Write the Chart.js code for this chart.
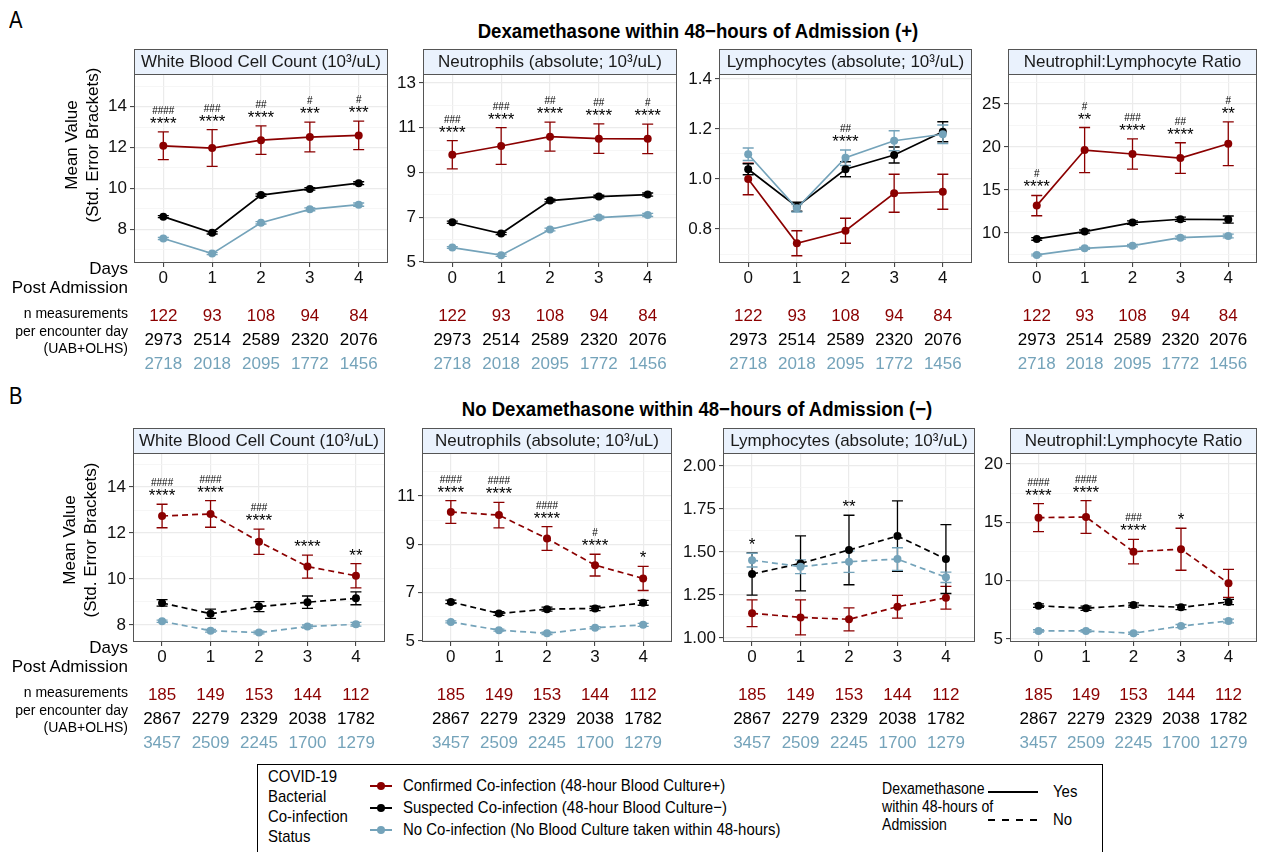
<!DOCTYPE html>
<html>
<head>
<meta charset="utf-8">
<title>Blood counts by co-infection status</title>
<script src="https://cdn.jsdelivr.net/npm/chart.js@4"></script>
<style>
  body { margin: 0; background: #fff; }
  #wrap { position: relative; width: 1261px; height: 852px; overflow: hidden;
          font-family: "Liberation Sans", Arial, sans-serif; color: #000; }
  #wrap canvas { position: absolute; }
  .t { position: absolute; white-space: nowrap; }
  .narrow { transform: scaleX(0.88); transform-origin: 0 50%; }
  .rot { transform: translate(-50%, -50%) rotate(-90deg); font-size: 17px; line-height: 20px; }
  .leftlab { left: 0; width: 128px; text-align: right; }
</style>
</head>
<body>
<div id="wrap"></div>
<script>
// ---------- categories ----------
const DAYS = ['0', '1', '2', '3', '4'];
const GROUP_LABELS = [
  'Confirmed Co-infection (48-hour Blood Culture+)',
  'Suspected Co-infection (48-hour Blood Culture\u2212)',
  'No Co-infection (No Blood Culture taken within 48-hours)'
];
const GROUP_COLORS = ['#8B0000', '#000000', '#74A3BA'];

// ---------- n measurements per encounter day ----------
const dexNConfirmed = [122, 93, 108, 94, 84];
const dexNSuspected = [2973, 2514, 2589, 2320, 2076];
const dexNNone      = [2718, 2018, 2095, 1772, 1456];
const noDexNConfirmed = [185, 149, 153, 144, 112];
const noDexNSuspected = [2867, 2279, 2329, 2038, 1782];
const noDexNNone      = [3457, 2509, 2245, 1700, 1279];

// ---------- Dexamethasone (+): means and standard errors ----------
const dexWbcConfirmed   = [12.08, 11.97, 12.36, 12.51, 12.59];
const dexWbcConfirmedSe = [0.68, 0.90, 0.70, 0.73, 0.70];
const dexWbcSuspected   = [8.61, 7.82, 9.67, 9.97, 10.25];
const dexWbcSuspectedSe = [0.05, 0.06, 0.06, 0.06, 0.07];
const dexWbcNone        = [7.54, 6.80, 8.31, 8.97, 9.20];
const dexWbcNoneSe      = [0.05, 0.05, 0.06, 0.07, 0.08];

const dexNeutConfirmed   = [9.79, 10.18, 10.60, 10.51, 10.50];
const dexNeutConfirmedSe = [0.63, 0.82, 0.65, 0.66, 0.66];
const dexNeutSuspected   = [6.77, 6.27, 7.74, 7.92, 8.01];
const dexNeutSuspectedSe = [0.05, 0.05, 0.06, 0.06, 0.07];
const dexNeutNone        = [5.64, 5.30, 6.45, 6.98, 7.10];
const dexNeutNoneSe      = [0.04, 0.05, 0.06, 0.06, 0.07];

const dexLymphConfirmed   = [1.000, 0.743, 0.793, 0.943, 0.949];
const dexLymphConfirmedSe = [0.063, 0.050, 0.050, 0.076, 0.070];
const dexLymphSuspected   = [1.039, 0.889, 1.039, 1.096, 1.189];
const dexLymphSuspectedSe = [0.022, 0.018, 0.030, 0.032, 0.040];
const dexLymphNone        = [1.099, 0.883, 1.085, 1.153, 1.179];
const dexLymphNoneSe      = [0.025, 0.015, 0.031, 0.040, 0.037];

const dexNlrConfirmed   = [13.18, 19.65, 19.19, 18.72, 20.38];
const dexNlrConfirmedSe = [1.18, 2.62, 1.77, 1.78, 2.54];
const dexNlrSuspected   = [9.30, 10.16, 11.20, 11.59, 11.55];
const dexNlrSuspectedSe = [0.15, 0.18, 0.20, 0.25, 0.42];
const dexNlrNone        = [7.44, 8.21, 8.52, 9.45, 9.65];
const dexNlrNoneSe      = [0.10, 0.12, 0.14, 0.18, 0.22];

// ---------- Dexamethasone (-): means and standard errors ----------
const noDexWbcConfirmed   = [12.74, 12.83, 11.62, 10.54, 10.14];
const noDexWbcConfirmedSe = [0.51, 0.58, 0.55, 0.50, 0.53];
const noDexWbcSuspected   = [8.96, 8.49, 8.80, 8.99, 9.16];
const noDexWbcSuspectedSe = [0.14, 0.20, 0.22, 0.27, 0.28];
const noDexWbcNone        = [8.16, 7.75, 7.67, 7.93, 8.03];
const noDexWbcNoneSe      = [0.05, 0.06, 0.06, 0.07, 0.08];

const noDexNeutConfirmed   = [10.34, 10.21, 9.24, 8.14, 7.59];
const noDexNeutConfirmedSe = [0.47, 0.53, 0.49, 0.45, 0.50];
const noDexNeutSuspected   = [6.62, 6.14, 6.32, 6.35, 6.58];
const noDexNeutSuspectedSe = [0.07, 0.08, 0.08, 0.09, 0.10];
const noDexNeutNone        = [5.79, 5.45, 5.32, 5.55, 5.67];
const noDexNeutNoneSe      = [0.04, 0.04, 0.05, 0.05, 0.06];

const noDexLymphConfirmed   = [1.144, 1.120, 1.109, 1.182, 1.234];
const noDexLymphConfirmedSe = [0.078, 0.102, 0.067, 0.066, 0.066];
const noDexLymphSuspected   = [1.372, 1.434, 1.512, 1.593, 1.459];
const noDexLymphSuspectedSe = [0.123, 0.160, 0.202, 0.205, 0.200];
const noDexLymphNone        = [1.453, 1.415, 1.444, 1.459, 1.353];
const noDexLymphNoneSe      = [0.040, 0.040, 0.062, 0.066, 0.030];

const noDexNlrConfirmed   = [15.40, 15.45, 12.48, 12.69, 9.77];
const noDexNlrConfirmedSe = [1.20, 1.40, 1.05, 1.80, 1.20];
const noDexNlrSuspected   = [7.85, 7.63, 7.91, 7.71, 8.17];
const noDexNlrSuspectedSe = [0.15, 0.18, 0.18, 0.20, 0.22];
const noDexNlrNone        = [5.69, 5.69, 5.49, 6.11, 6.54];
const noDexNlrNoneSe      = [0.10, 0.10, 0.10, 0.13, 0.16];

// ---------- significance marks (stars: vs suspected, hashes: vs none) ----------
const dexWbcStars   = ['****', '****', '****', '***', '***'];
const dexWbcHashes  = ['####', '###', '##', '#', '#'];
const dexNeutStars  = ['****', '****', '****', '****', '****'];
const dexNeutHashes = ['###', '###', '##', '##', '#'];
const dexLymphStars  = ['', '', '****', '', ''];
const dexLymphHashes = ['', '', '##', '', ''];
const dexNlrStars   = ['****', '**', '****', '****', '**'];
const dexNlrHashes  = ['#', '#', '###', '##', '#'];

const noDexWbcStars   = ['****', '****', '****', '****', '**'];
const noDexWbcHashes  = ['####', '####', '###', '', ''];
const noDexNeutStars  = ['****', '****', '****', '****', '*'];
const noDexNeutHashes = ['####', '####', '####', '#', ''];
const noDexLymphStars  = ['*', '', '**', '', ''];
const noDexLymphHashes = ['', '', '', '', ''];
const noDexNlrStars   = ['****', '****', '****', '*', ''];
const noDexNlrHashes  = ['####', '####', '###', '', ''];

// ---------- y axes: limits, major ticks and their labels ----------
const dexWbcRange = [6.34, 15.6];   const dexWbcTicks = [8, 10, 12, 14];        const dexWbcTickLabels = ['8', '10', '12', '14'];
const dexNeutRange = [4.95, 13.4];  const dexNeutTicks = [5, 7, 9, 11, 13];     const dexNeutTickLabels = ['5', '7', '9', '11', '13'];
const dexLymphRange = [0.664, 1.42]; const dexLymphTicks = [0.8, 1.0, 1.2, 1.4]; const dexLymphTickLabels = ['0.8', '1.0', '1.2', '1.4'];
const dexNlrRange = [6.5, 28.5];    const dexNlrTicks = [10, 15, 20, 25];       const dexNlrTickLabels = ['10', '15', '20', '25'];
const noDexWbcRange = [7.26, 15.48]; const noDexWbcTicks = [8, 10, 12, 14];     const noDexWbcTickLabels = ['8', '10', '12', '14'];
const noDexNeutRange = [4.96, 12.78]; const noDexNeutTicks = [5, 7, 9, 11];     const noDexNeutTickLabels = ['5', '7', '9', '11'];
const noDexLymphRange = [0.977, 2.076]; const noDexLymphTicks = [1.0, 1.25, 1.5, 1.75, 2.0]; const noDexLymphTickLabels = ['1.00', '1.25', '1.50', '1.75', '2.00'];
const noDexNlrRange = [4.74, 20.94]; const noDexNlrTicks = [5, 10, 15, 20];     const noDexNlrTickLabels = ['5', '10', '15', '20'];

// ---------- panel titles ----------
const TITLE_WBC = 'White Blood Cell Count (10\u00B3/uL)';
const TITLE_NEUT = 'Neutrophils (absolute; 10\u00B3/uL)';
const TITLE_LYMPH = 'Lymphocytes (absolute; 10\u00B3/uL)';
const TITLE_NLR = 'Neutrophil:Lymphocyte Ratio';

// ---------- drawing ----------
const wrap = document.getElementById('wrap');
const FONT = '"Liberation Sans", Arial, sans-serif';
const AX_W = 62, STRIP = 25, BELOW = 112, CAP = 5.5;

function addText(html, cls, style, parent) {
  const d = document.createElement('div');
  d.className = 't ' + (cls || '');
  d.innerHTML = html;
  Object.assign(d.style, style);
  (parent || wrap).appendChild(d);
  return d;
}

function minorTicks(majors, range) {
  const step = majors[1] - majors[0];
  const out = [];
  for (let v = majors[0] - step / 2; v <= range[1]; v += step) {
    if (v >= range[0] && !majors.some(m => Math.abs(m - v) < 1e-9)) out.push(v);
  }
  return out;
}

const decorPlugin = {
  id: 'panelDecor',
  // standard-error brackets, under the lines and points
  beforeDatasetsDraw(chart) {
    const p = chart.canvas._panel, ctx = chart.ctx, a = chart.chartArea;
    const xs = chart.scales.x, ys = chart.scales.y;
    ctx.save();
    ctx.beginPath(); ctx.rect(a.left, a.top, a.right - a.left, a.bottom - a.top); ctx.clip();
    ctx.lineWidth = 1.3;
    p.means.forEach((m, s) => {
      ctx.strokeStyle = GROUP_COLORS[s];
      m.forEach((v, k) => {
        const x = xs.getPixelForValue(k);
        const y1 = ys.getPixelForValue(v + p.ses[s][k]);
        const y2 = ys.getPixelForValue(v - p.ses[s][k]);
        ctx.beginPath();
        ctx.moveTo(x, y1); ctx.lineTo(x, y2);
        ctx.moveTo(x - CAP, y1); ctx.lineTo(x + CAP, y1);
        ctx.moveTo(x - CAP, y2); ctx.lineTo(x + CAP, y2);
        ctx.stroke();
      });
    });
    ctx.restore();
  },
  // significance marks above the highest bracket of each day
  afterDatasetsDraw(chart) {
    const p = chart.canvas._panel, ctx = chart.ctx;
    const xs = chart.scales.x, ys = chart.scales.y;
    ctx.save();
    ctx.fillStyle = '#000';
    ctx.textAlign = 'center';
    ctx.textBaseline = 'alphabetic';
    p.stars.forEach((st, k) => {
      if (!st && !p.hashes[k]) return;
      let top = Infinity;
      p.means.forEach((m, s) => { top = Math.min(top, ys.getPixelForValue(m[k] + p.ses[s][k])); });
      const x = xs.getPixelForValue(k);
      ctx.font = '17px ' + FONT;
      if (st) ctx.fillText(st, x, top - 3);
      ctx.font = '10px ' + FONT;
      if (p.hashes[k]) ctx.fillText(p.hashes[k], x, top - 18);
    });
    ctx.restore();
  },
  afterDraw(chart) {
    const p = chart.canvas._panel, ctx = chart.ctx, a = chart.chartArea;
    const xs = chart.scales.x;
    ctx.save();
    // panel border
    ctx.strokeStyle = '#555';
    ctx.lineWidth = 1;
    ctx.strokeRect(a.left + 0.5, a.top + 0.5, a.right - a.left - 1, a.bottom - a.top - 1);
    // strip with the measure name
    ctx.fillStyle = '#EAF2FD';
    ctx.fillRect(a.left + 0.5, a.top - STRIP + 0.5, a.right - a.left - 1, STRIP);
    ctx.strokeRect(a.left + 0.5, a.top - STRIP + 0.5, a.right - a.left - 1, STRIP);
    ctx.fillStyle = '#1a1a1a';
    ctx.font = '17px ' + FONT;
    ctx.textAlign = 'center';
    ctx.textBaseline = 'middle';
    ctx.fillText(p.title, (a.left + a.right) / 2, a.top - STRIP / 2 + 1);
    // n measurements per day, one row per group
    ctx.font = '17px ' + FONT;
    const offs = [53, 77, 101];
    p.counts.forEach((row, s) => {
      ctx.fillStyle = GROUP_COLORS[s];
      row.forEach((n, k) => ctx.fillText(String(n), xs.getPixelForValue(k), a.bottom + offs[s]));
    });
    ctx.restore();
  }
};

function makePanel(p) {
  const c = document.createElement('canvas');
  const w = p.right - p.left + AX_W + 2;
  const h = p.bottom - p.top + STRIP + 1 + BELOW;
  c.width = w; c.height = h;
  c.style.left = (p.left - AX_W) + 'px';
  c.style.top = (p.top - STRIP - 1) + 'px';
  c.style.width = w + 'px'; c.style.height = h + 'px';
  c._panel = p;
  wrap.appendChild(c);

  const minors = minorTicks(p.yTicks, p.yRange);
  const isMajor = v => p.yTicks.some(m => Math.abs(m - v) < 1e-9);

  const datasets = p.means.map((m, s) => ({
    data: m.map((v, k) => ({ x: k, y: v })),
    borderColor: GROUP_COLORS[s],
    backgroundColor: GROUP_COLORS[s],
    pointBackgroundColor: GROUP_COLORS[s],
    borderWidth: 1.7,
    borderDash: p.dashed ? [6, 4] : [],
    pointRadius: 4,
    pointBorderWidth: 0,
    tension: 0,
    order: 2 - s
  }));

  new Chart(c, {
    type: 'line',
    data: { datasets },
    plugins: [decorPlugin],
    options: {
      responsive: false,
      animation: false,
      events: [],
      layout: { padding: { top: STRIP + 1, right: 2, left: 0, bottom: 0 } },
      plugins: { legend: { display: false }, tooltip: { enabled: false } },
      scales: {
        x: {
          type: 'linear', min: -0.6, max: 4.6,
          afterBuildTicks: s => { s.ticks = DAYS.map((d, i) => ({ value: i })); },
          afterFit: s => { s.height = BELOW; },
          border: { display: false },
          grid: { color: '#EBEBEB', lineWidth: 1.2, tickColor: '#333', tickLength: 4, tickWidth: 1 },
          ticks: { autoSkip: false, maxRotation: 0, padding: 1, color: '#111',
                   font: { family: FONT, size: 17 },
                   callback: (v, i) => DAYS[i] }
        },
        y: {
          type: 'linear', min: p.yRange[0], max: p.yRange[1],
          afterBuildTicks: s => {
            s.ticks = p.yTicks.concat(minors).sort((a, b) => a - b).map(v => ({ value: v }));
          },
          afterFit: s => { s.width = AX_W; },
          border: { display: false },
          grid: {
            color: ctx => isMajor(ctx.tick.value) ? '#EBEBEB' : '#F4F4F4',
            lineWidth: ctx => isMajor(ctx.tick.value) ? 1.2 : 0.8,
            tickColor: ctx => isMajor(ctx.tick.value) ? '#333' : 'rgba(0,0,0,0)',
            tickLength: 4, tickWidth: 1
          },
          ticks: { autoSkip: false, padding: 3, color: '#111',
                   font: { family: FONT, size: 17 },
                   callback: v => {
                     const i = p.yTicks.findIndex(m => Math.abs(m - v) < 1e-9);
                     return i < 0 ? '' : p.yTickLabels[i];
                   } }
        }
      }
    }
  });
}

const dexCounts = [dexNConfirmed, dexNSuspected, dexNNone];
const noDexCounts = [noDexNConfirmed, noDexNSuspected, noDexNNone];

// row A: dexamethasone given
makePanel({ left: 134, right: 390, top: 74, bottom: 263, title: TITLE_WBC, dashed: false,
  means: [dexWbcConfirmed, dexWbcSuspected, dexWbcNone], ses: [dexWbcConfirmedSe, dexWbcSuspectedSe, dexWbcNoneSe],
  yRange: dexWbcRange, yTicks: dexWbcTicks, yTickLabels: dexWbcTickLabels,
  stars: dexWbcStars, hashes: dexWbcHashes, counts: dexCounts });
makePanel({ left: 423, right: 679, top: 74, bottom: 263, title: TITLE_NEUT, dashed: false,
  means: [dexNeutConfirmed, dexNeutSuspected, dexNeutNone], ses: [dexNeutConfirmedSe, dexNeutSuspectedSe, dexNeutNoneSe],
  yRange: dexNeutRange, yTicks: dexNeutTicks, yTickLabels: dexNeutTickLabels,
  stars: dexNeutStars, hashes: dexNeutHashes, counts: dexCounts });
makePanel({ left: 719, right: 974, top: 74, bottom: 263, title: TITLE_LYMPH, dashed: false,
  means: [dexLymphConfirmed, dexLymphSuspected, dexLymphNone], ses: [dexLymphConfirmedSe, dexLymphSuspectedSe, dexLymphNoneSe],
  yRange: dexLymphRange, yTicks: dexLymphTicks, yTickLabels: dexLymphTickLabels,
  stars: dexLymphStars, hashes: dexLymphHashes, counts: dexCounts });
makePanel({ left: 1008, right: 1259, top: 74, bottom: 263, title: TITLE_NLR, dashed: false,
  means: [dexNlrConfirmed, dexNlrSuspected, dexNlrNone], ses: [dexNlrConfirmedSe, dexNlrSuspectedSe, dexNlrNoneSe],
  yRange: dexNlrRange, yTicks: dexNlrTicks, yTickLabels: dexNlrTickLabels,
  stars: dexNlrStars, hashes: dexNlrHashes, counts: dexCounts });

// row B: no dexamethasone
makePanel({ left: 133, right: 387, top: 453, bottom: 642, title: TITLE_WBC, dashed: true,
  means: [noDexWbcConfirmed, noDexWbcSuspected, noDexWbcNone], ses: [noDexWbcConfirmedSe, noDexWbcSuspectedSe, noDexWbcNoneSe],
  yRange: noDexWbcRange, yTicks: noDexWbcTicks, yTickLabels: noDexWbcTickLabels,
  stars: noDexWbcStars, hashes: noDexWbcHashes, counts: noDexCounts });
makePanel({ left: 422, right: 674, top: 453, bottom: 642, title: TITLE_NEUT, dashed: true,
  means: [noDexNeutConfirmed, noDexNeutSuspected, noDexNeutNone], ses: [noDexNeutConfirmedSe, noDexNeutSuspectedSe, noDexNeutNoneSe],
  yRange: noDexNeutRange, yTicks: noDexNeutTicks, yTickLabels: noDexNeutTickLabels,
  stars: noDexNeutStars, hashes: noDexNeutHashes, counts: noDexCounts });
makePanel({ left: 723, right: 977, top: 453, bottom: 642, title: TITLE_LYMPH, dashed: true,
  means: [noDexLymphConfirmed, noDexLymphSuspected, noDexLymphNone], ses: [noDexLymphConfirmedSe, noDexLymphSuspectedSe, noDexLymphNoneSe],
  yRange: noDexLymphRange, yTicks: noDexLymphTicks, yTickLabels: noDexLymphTickLabels,
  stars: noDexLymphStars, hashes: noDexLymphHashes, counts: noDexCounts });
makePanel({ left: 1010, right: 1259, top: 453, bottom: 642, title: TITLE_NLR, dashed: true,
  means: [noDexNlrConfirmed, noDexNlrSuspected, noDexNlrNone], ses: [noDexNlrConfirmedSe, noDexNlrSuspectedSe, noDexNlrNoneSe],
  yRange: noDexNlrRange, yTicks: noDexNlrTicks, yTickLabels: noDexNlrTickLabels,
  stars: noDexNlrStars, hashes: noDexNlrHashes, counts: noDexCounts });

// ---------- section headings ----------
addText('A', 'narrow', { left: '9px', top: '7px', fontSize: '23px', lineHeight: '26px' });
addText('B', 'narrow', { left: '9px', top: '383px', fontSize: '23px', lineHeight: '26px' });
addText('Dexamethasone within 48\u2212hours of Admission (+)', '',
  { left: '698px', top: '19px', transform: 'translateX(-50%) scaleX(0.93)', fontSize: '20px', fontWeight: 'bold', lineHeight: '24px' });
addText('No Dexamethasone within 48\u2212hours of Admission (\u2212)', '',
  { left: '697px', top: '397px', transform: 'translateX(-50%) scaleX(0.93)', fontSize: '20px', fontWeight: 'bold', lineHeight: '24px' });

// ---------- y-axis titles and left-hand row labels ----------
addText('Mean Value', 'rot', { left: '72px', top: '145px' });
addText('(Std. Error Brackets)', 'rot', { left: '93px', top: '145px' });
addText('Mean Value', 'rot', { left: '70px', top: '540px' });
addText('(Std. Error Brackets)', 'rot', { left: '91px', top: '540px' });

function rowLabels(daysY, nY) {
  addText('Days', 'leftlab', { top: (daysY - 10) + 'px', fontSize: '17px', lineHeight: '20px' });
  addText('Post Admission', 'leftlab', { top: (daysY + 9) + 'px', fontSize: '17px', lineHeight: '20px' });
  addText('n measurements<br>per encounter day<br>(UAB+OLHS)', 'leftlab',
    { top: (nY - 9) + 'px', fontSize: '14px', lineHeight: '17.5px' });
}
rowLabels(269, 314);
rowLabels(648, 693);

// ---------- combined legend ----------
const legend = addText('', '', { left: '257px', top: '764px', width: '846px', height: '100px',
  border: '1px solid #000', boxSizing: 'border-box', background: '#fff' });
function legText(txt, x, y, size, lh) {
  return addText(txt, 'narrow', { left: x + 'px', top: y + 'px', fontSize: size + 'px', lineHeight: lh + 'px' }, legend);
}
legText('COVID-19<br>Bacterial<br>Co-infection<br>Status', 10, 2, 17, 20);
GROUP_LABELS.forEach((lab, i) => {
  const cy = 21 + i * 22;
  const line = document.createElement('div');
  Object.assign(line.style, { position: 'absolute', left: '112px', top: (cy - 1) + 'px', width: '22px', height: '2px', background: GROUP_COLORS[i] });
  const dot = document.createElement('div');
  Object.assign(dot.style, { position: 'absolute', left: '119px', top: (cy - 4) + 'px', width: '8px', height: '8px', borderRadius: '50%', background: GROUP_COLORS[i] });
  legend.appendChild(line); legend.appendChild(dot);
  legText(lab, 145, cy - 10, 17, 20);
});
legText('Dexamethasone<br>within 48-hours of<br>Admission', 624, 15, 16, 18);
const solid = document.createElement('div');
Object.assign(solid.style, { position: 'absolute', left: '730px', top: '26px', width: '50px', height: '2px', background: '#000' });
const dashed = document.createElement('div');
Object.assign(dashed.style, { position: 'absolute', left: '730px', top: '54px', width: '50px', height: '2px',
  background: 'repeating-linear-gradient(to right, #000 0 7px, transparent 7px 14px)' });
legend.appendChild(solid); legend.appendChild(dashed);
legText('Yes', 795, 17, 17, 20);
legText('No', 795, 45, 17, 20);
</script>
</body>
</html>
